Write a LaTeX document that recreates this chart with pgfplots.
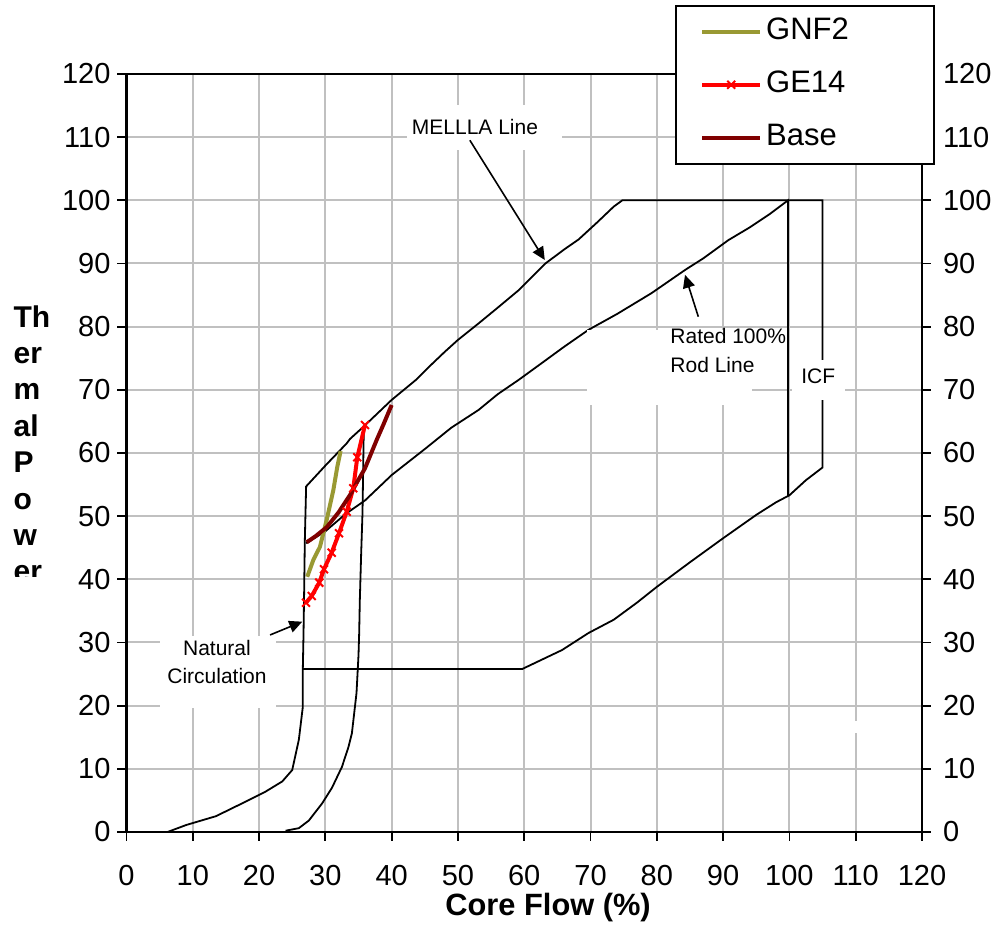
\documentclass[border=0pt]{standalone}
\usepackage{pgfplots}
\pgfplotsset{compat=1.18}
\usepackage{fontspec}
\setmainfont{Liberation Sans}
\usetikzlibrary{arrows.meta}

\definecolor{gnf}{HTML}{999933}
\definecolor{basered}{HTML}{800000}
\definecolor{gridgray}{HTML}{C0C0C0}

\pgfplotsset{
  mapaxis/.style={
    scale only axis, width=397.75pt, height=379pt,
    xmin=0, xmax=120, ymin=0, ymax=120,
    xtick distance=10, ytick distance=10,
    tick align=outside, major tick length=4.5pt,
    major tick style={black, line width=0.9pt},
    axis line style={black, line width=1.1pt},
    ticklabel style={font=\fontsize{14.5}{17}\selectfont},
    /pgf/number format/assume math mode=true,
  },
  bound/.style={black, line width=0.9pt, no marks, forget plot},
}

\begin{document}
\begin{tikzpicture}
% right-hand axis: tick labels only
\begin{axis}[mapaxis, hide x axis, axis y line*=right,
  yticklabel style={xshift=2.5pt}]
\end{axis}

\begin{axis}[mapaxis, name=main, clip=false,
  xtick pos=left, ytick pos=left,
  xticklabel style={yshift=-8.5pt},
  grid=major, grid style={gridgray, line width=1pt},
  legend style={at={(1.0164,1.0911)}, anchor=north east,
    draw=black, line width=0.85pt, fill=white,
    font=\fontsize{15.5}{18}\selectfont,
    inner xsep=12pt, inner ysep=4pt, row sep=8.5pt,
    nodes={inner sep=2pt, text height=11pt, text depth=3pt}},
  legend cell align=left,
  legend image code/.code={\draw[mark repeat=2, mark phase=2, #1]
    plot coordinates {(0pt,0pt) (14.5pt,0pt) (29pt,0pt)};},
]

% power/flow map boundaries
\addplot[bound] coordinates {
  (6.2,0) (9,1.1) (13.5,2.5) (17,4.3) (21,6.4) (23.5,8) (25,9.8)
  (26,14.6) (26.6,19.8) (26.6,25.8) (26.7,31) (26.8,38) (26.9,46) (27.1,54.7)
  (30,58) (33.2,61.5) (33.7,62.2) (36,64.4) (40,68.4) (43.7,71.6) (46,74)
  (48,76) (50,77.9) (53.1,80.5) (56,83) (59.2,85.8) (63.2,90) (66,92.2)
  (68.2,93.8) (71,96.5) (73.5,99) (74.8,100) (105,100) (105,57.7)
  (102.5,55.7) (100,53.3) (98,52.2) (95,50.2) (90,46.5) (85,42.7)
  (80,38.8) (77,36.3) (73.5,33.6) (69.7,31.5) (65.7,28.8) (59.7,25.8) (26.6,25.8)};
% rated 100% rod line and 100% flow
\addplot[bound] coordinates {
  (27.1,45.7) (30,47.6) (33,50.3) (36,52.5) (40,56.5) (45.1,60.7) (49,64)
  (53.1,66.8) (56,69.3) (59.2,71.6) (63,74.5) (66,76.8) (69.7,79.5) (74,82)
  (79.2,85.3) (84.3,89) (87,90.8) (90.8,93.7) (94,95.7) (97,97.8) (99.8,100)
  (99.8,53.2)};
% right-hand pump line
\addplot[bound] coordinates {
  (24,0.2) (26,0.6) (27.5,1.8) (29.5,4.5) (31,7) (32.5,10.3) (33.5,13.5)
  (34,15.6) (34.7,22) (35,28) (35.1,31.4) (35.2,36.7) (35.4,44) (35.6,50.4)
  (35.7,57) (35.8,64.2)};

\addplot[gnf, line width=2pt, no marks] coordinates {
  (27.27,40.4) (28.18,43.05) (29.19,45.15) (30.2,49.4) (31.2,54.1)
  (31.8,57.8) (32.3,60.3)};
\addlegendentry{\makebox[70pt][l]{GNF2}}

\addplot[red, line width=2pt, mark=x, mark size=2.8pt,
  mark options={line width=1pt}] coordinates {
  (27.08,36.3) (27.94,37.36) (29.08,39.47) (29.79,41.59) (30.95,44.21)
  (32.06,47.29) (33.22,50.7) (34.21,54.41) (34.82,59.32) (35.98,64.43)};
\addlegendentry{\makebox[70pt][l]{GE14}}

\addplot[basered, line width=2pt, no marks] coordinates {
  (27.18,45.86) (28.5,46.8) (30.2,48.24) (32,50.6) (33.72,53.35)
  (34.8,55.4) (35.98,57.57) (37.74,62.06) (38.8,64.6) (40.0,67.6)};
\addlegendentry{\makebox[70pt][l]{Base}}

% text boxes
\fill[white] (axis cs:42.3,108.0) rectangle (axis cs:65.7,115.1);
\node[inner sep=0, font=\fontsize{10.5}{13}\selectfont] at (axis cs:52.57,111.6) {MELLLA Line};
\draw[line width=0.8pt, -{Triangle[length=6.5pt, width=6pt]}] (axis cs:51.8,109.5) -- (axis cs:63.1,90.55);

\fill[white] (axis cs:69.45,67.6) rectangle (axis cs:94.33,79.47);
\node[anchor=west, align=left, inner sep=0, font=\fontsize{10.5}{14.5}\selectfont] at (axis cs:82.0,76.3) {Rated 100\%\\Rod Line};
\draw[line width=0.8pt, -{Triangle[length=6.5pt, width=6pt]}] (axis cs:86.26,81.57) -- (axis cs:84.25,88.2);

\fill[white] (axis cs:100.35,68.4) rectangle (axis cs:108.39,74.7);
\node[inner sep=0, font=\fontsize{10.5}{13}\selectfont] at (axis cs:104.36,72.2) {ICF};

\fill[white] (axis cs:5.05,19.58) rectangle (axis cs:22.5,31.08);
\node[align=center, inner sep=0, font=\fontsize{10.5}{13.75}\selectfont] at (axis cs:13.65,26.9) {Natural\\Circulation};
\draw[line width=0.8pt, -{Triangle[length=6.5pt, width=6pt]}] (axis cs:21.66,31.19) -- (axis cs:26.52,33.29);

\fill[white] (axis cs:109.3,15.7) rectangle (axis cs:110.8,17.5);

\node[anchor=base, font=\bfseries\fontsize{15.4}{18}\selectfont] at (axis cs:63.6,-13.3) {Core Flow (\%)};

\coordinate (BBsw) at (axis cs:-19.08,-15.83);
\coordinate (BBne) at (axis cs:132.07,131.71);
\coordinate (YLtop) at (axis cs:-17.08,83.43);
\coordinate (YLclipSW) at (axis cs:-19.08,40.4);
\coordinate (YLclipNE) at (axis cs:-3,100);
\end{axis}

\begin{scope}
\clip (YLclipSW) rectangle (YLclipNE);
\node[anchor=north west, align=left, inner sep=0, font=\bfseries\fontsize{15}{18.2}\selectfont] at (YLtop) {Th\\er\\m\\al\\P\\o\\w\\er};
\end{scope}

\pgfresetboundingbox
\path[use as bounding box] (BBsw) rectangle (BBne);
\end{tikzpicture}
\end{document}
